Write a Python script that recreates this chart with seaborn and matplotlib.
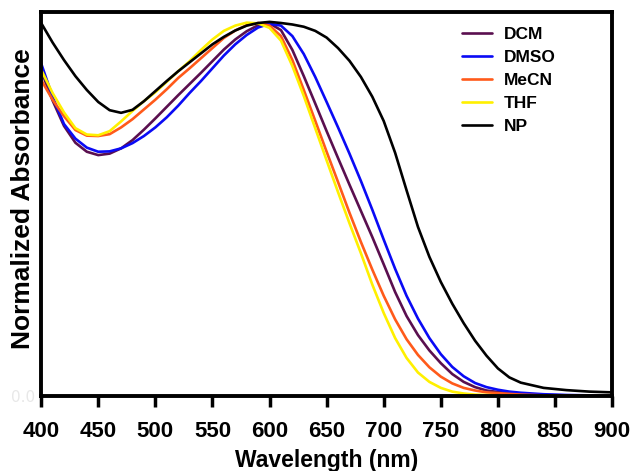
import pandas as pd
import matplotlib
matplotlib.use("Agg")
import matplotlib.pyplot as plt
import seaborn as sns

# Data (normalized absorbance)
wavelength = [400, 410, 420, 430, 440, 450, 460, 470, 480, 490,
              500, 510, 520, 530, 540, 550, 560, 570, 580, 590,
              600, 610, 620, 630, 640, 650, 660, 670, 680, 690,
              700, 710, 720, 730, 740, 750, 760, 770, 780, 790,
              800, 810, 820, 840, 860, 880, 900]

dcm = [0.870, 0.790, 0.722, 0.677, 0.653, 0.644, 0.648, 0.662, 0.684, 0.712,
       0.742, 0.773, 0.804, 0.834, 0.864, 0.895, 0.926, 0.953, 0.975, 0.991,
       0.996, 0.978, 0.925, 0.855, 0.782, 0.708, 0.636, 0.565, 0.495, 0.425,
       0.352, 0.278, 0.214, 0.163, 0.122, 0.088, 0.059, 0.038, 0.024, 0.015,
       0.011, 0.008, 0.006, 0.003, 0.002, 0.001, 0.0]

dmso = [0.889, 0.800, 0.727, 0.688, 0.664, 0.653, 0.654, 0.662, 0.676, 0.695,
        0.718, 0.745, 0.776, 0.810, 0.842, 0.876, 0.910, 0.940, 0.965, 0.985,
        0.995, 0.990, 0.962, 0.914, 0.853, 0.786, 0.718, 0.648, 0.575, 0.498,
        0.418, 0.340, 0.268, 0.207, 0.155, 0.112, 0.078, 0.053, 0.035, 0.024,
        0.017, 0.012, 0.009, 0.005, 0.003, 0.002, 0.001]

mecn = [0.845, 0.792, 0.748, 0.711, 0.696, 0.695, 0.700, 0.718, 0.740, 0.766,
        0.792, 0.820, 0.850, 0.876, 0.903, 0.930, 0.957, 0.977, 0.991, 0.997,
        0.990, 0.962, 0.898, 0.818, 0.736, 0.653, 0.572, 0.490, 0.412, 0.338,
        0.268, 0.205, 0.152, 0.110, 0.077, 0.052, 0.034, 0.022, 0.015, 0.010,
        0.008, 0.006, 0.004, 0.002, 0.001, 0.0, 0.0]

thf = [0.872, 0.810, 0.758, 0.716, 0.699, 0.697, 0.708, 0.734, 0.762, 0.788,
       0.812, 0.840, 0.868, 0.895, 0.925, 0.953, 0.976, 0.990, 0.998, 0.996,
       0.984, 0.950, 0.882, 0.802, 0.716, 0.630, 0.545, 0.462, 0.382, 0.298,
       0.222, 0.155, 0.102, 0.063, 0.038, 0.022, 0.012, 0.007, 0.004, 0.003,
       0.002, 0.001, 0.001, 0.0, 0.0, 0.0, 0.0]

np_curve = [0.997, 0.945, 0.898, 0.855, 0.818, 0.786, 0.764, 0.757, 0.765, 0.788,
            0.815, 0.842, 0.868, 0.892, 0.916, 0.940, 0.960, 0.977, 0.990, 0.997,
            1.000, 0.997, 0.993, 0.987, 0.976, 0.958, 0.930, 0.896, 0.853, 0.800,
            0.735, 0.650, 0.550, 0.452, 0.372, 0.305, 0.247, 0.195, 0.148, 0.108,
            0.074, 0.050, 0.036, 0.022, 0.016, 0.012, 0.010]

solvents = ["DCM", "DMSO", "MeCN", "THF", "NP"]
colors = {"DCM": "#5a0f4f", "DMSO": "#0a0af5", "MeCN": "#ff5a1a",
          "THF": "#fff000", "NP": "#000000"}

frames = []
for name, vals in zip(solvents, [dcm, dmso, mecn, thf, np_curve]):
    frames.append(pd.DataFrame({"wavelength": wavelength, "absorbance": vals, "solvent": name}))
df = pd.concat(frames, ignore_index=True)

sns.set_style("ticks")
plt.rcParams.update({"text.color": "black", "axes.labelcolor": "black",
                     "xtick.color": "black", "ytick.color": "black"})
font = ["Liberation Sans", "DejaVu Sans"]

fig = plt.figure(figsize=(6.33, 4.71), dpi=100)
ax = fig.add_axes([0.065, 0.159, 0.902, 0.816])

sns.lineplot(data=df, x="wavelength", y="absorbance", hue="solvent",
             hue_order=solvents, palette=colors, linewidth=1.9, ax=ax)

ax.set_xlim(400, 900)
ax.set_ylim(0, 1.027)
ax.set_xticks(range(400, 901, 50))
ax.set_yticks([0])
ax.set_yticklabels(["0.0"], color="#e8e8e8", fontsize=11)
for lbl in ax.get_xticklabels():
    lbl.set_fontfamily(font)
    lbl.set_fontweight("bold")
    lbl.set_fontsize(16)
ax.tick_params(axis="x", direction="out", length=8, width=2.5, pad=10)
ax.tick_params(axis="y", length=0, pad=4)

for sp in ax.spines.values():
    sp.set_linewidth(2.8)
    sp.set_color("black")

ax.set_xlabel("Wavelength (nm)", family=font, fontweight="bold", fontsize=16.5)
ax.xaxis.set_label_coords(0.5, -0.137)
ax.set_ylabel("Normalized Absorbance", family=font, fontweight="bold", fontsize=19)
ax.yaxis.set_label_coords(-0.01, 0.515)

ax.legend(loc="upper left", bbox_to_anchor=(0.71, 1.002), frameon=False,
          handlelength=1.7, handletextpad=0.7, labelspacing=0.45,
          prop={"family": font, "weight": "bold", "size": 12.5})

fig.savefig("out.png", dpi=100)
